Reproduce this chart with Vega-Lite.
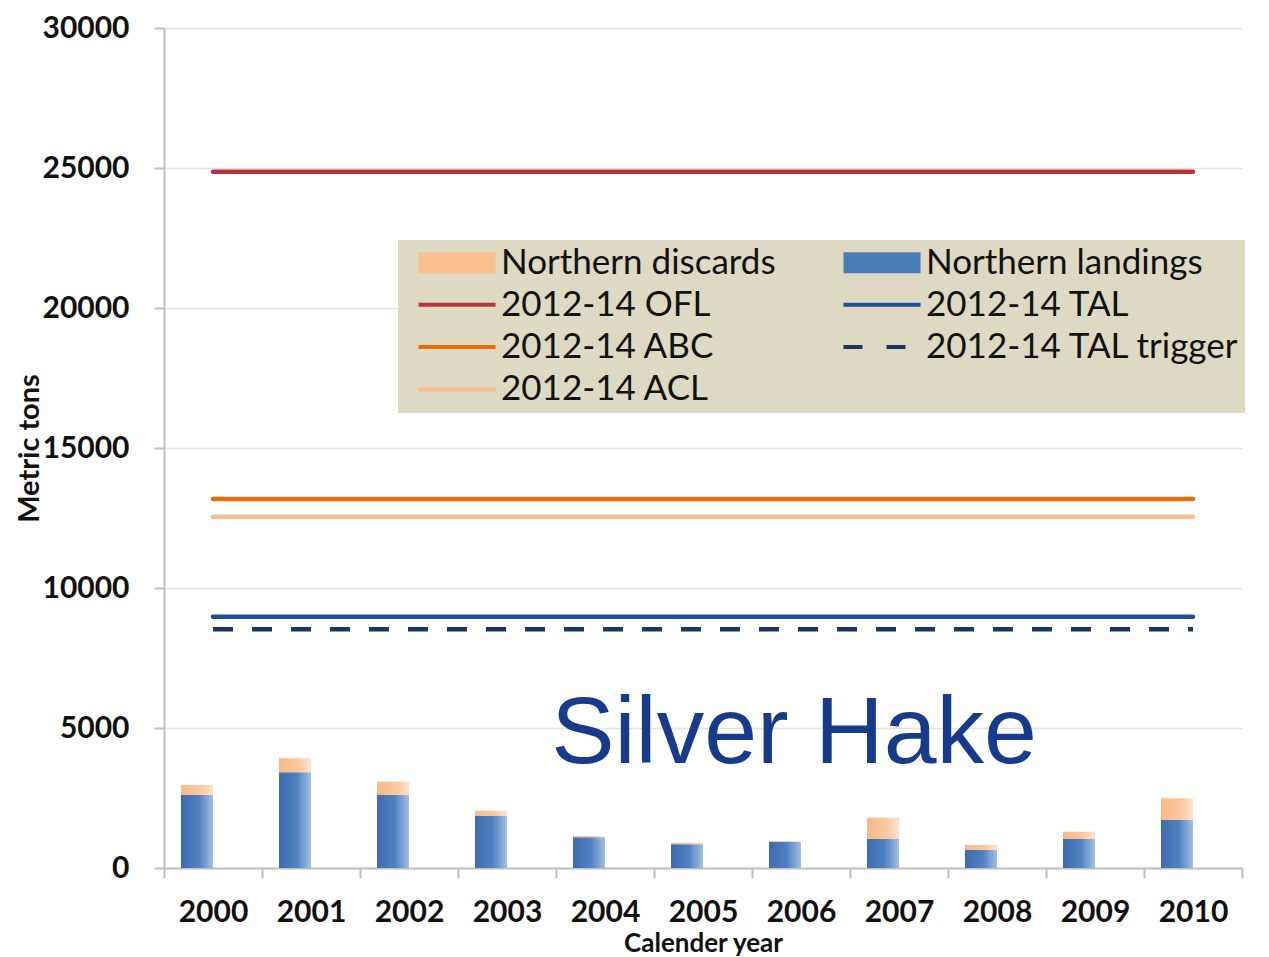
{
  "$schema": "https://vega.github.io/schema/vega-lite/v6.json",
  "width": 1078,
  "height": 840,
  "autosize": {"type": "none"},
  "padding": {"left": 164, "top": 28, "right": 27, "bottom": 89},
  "background": "#ffffff",
  "config": {"view": {"stroke": null}, "font": "Lato"},
  "datasets": {
    "bars": [
      {"year": "2000", "series": "Northern landings", "value": 2607},
      {"year": "2000", "series": "Northern discards", "value": 357},
      {"year": "2001", "series": "Northern landings", "value": 3420},
      {"year": "2001", "series": "Northern discards", "value": 500},
      {"year": "2002", "series": "Northern landings", "value": 2607},
      {"year": "2002", "series": "Northern discards", "value": 476},
      {"year": "2003", "series": "Northern landings", "value": 1857},
      {"year": "2003", "series": "Northern discards", "value": 190},
      {"year": "2004", "series": "Northern landings", "value": 1095},
      {"year": "2004", "series": "Northern discards", "value": 50},
      {"year": "2005", "series": "Northern landings", "value": 845},
      {"year": "2005", "series": "Northern discards", "value": 60},
      {"year": "2006", "series": "Northern landings", "value": 940},
      {"year": "2006", "series": "Northern discards", "value": 15},
      {"year": "2007", "series": "Northern landings", "value": 1036},
      {"year": "2007", "series": "Northern discards", "value": 760},
      {"year": "2008", "series": "Northern landings", "value": 643},
      {"year": "2008", "series": "Northern discards", "value": 180},
      {"year": "2009", "series": "Northern landings", "value": 1036},
      {"year": "2009", "series": "Northern discards", "value": 260},
      {"year": "2010", "series": "Northern landings", "value": 1714},
      {"year": "2010", "series": "Northern discards", "value": 775}
    ],
    "refs": [
      {"year": "2000", "series": "2012-14 OFL", "value": 24870},
      {"year": "2010", "series": "2012-14 OFL", "value": 24870},
      {"year": "2000", "series": "2012-14 ABC", "value": 13180},
      {"year": "2010", "series": "2012-14 ABC", "value": 13180},
      {"year": "2000", "series": "2012-14 ACL", "value": 12546},
      {"year": "2010", "series": "2012-14 ACL", "value": 12546},
      {"year": "2000", "series": "2012-14 TAL", "value": 8975},
      {"year": "2010", "series": "2012-14 TAL", "value": 8975},
      {"year": "2000", "series": "2012-14 TAL trigger", "value": 8526},
      {"year": "2010", "series": "2012-14 TAL trigger", "value": 8526}
    ]
  },
  "encoding": {
    "x": {
      "field": "year",
      "type": "ordinal",
      "scale": {"paddingInner": 0, "paddingOuter": 0},
      "title": "Calender year",
      "axis": {
        "labelAngle": 0,
        "labelFont": "Lato",
        "labelFontSize": 30,
        "labelFontWeight": "bold",
        "labelColor": "#111111",
        "labelPadding": 19,
        "tickBand": "extent",
        "tickSize": 10,
        "tickColor": "#BFBFBF",
        "tickWidth": 2,
        "domainColor": "#BFBFBF",
        "domainWidth": 2,
        "titleFont": "Lato",
        "titleFontSize": 26,
        "titleFontWeight": "bold",
        "titleColor": "#111111",
        "titlePadding": 3
      }
    },
    "y": {
      "field": "value",
      "type": "quantitative",
      "scale": {"domain": [0, 30000], "nice": false},
      "title": "Metric tons",
      "axis": {
        "values": [0, 5000, 10000, 15000, 20000, 25000, 30000],
        "format": "d",
        "labelFont": "Lato",
        "labelFontSize": 30,
        "labelFontWeight": "bold",
        "labelColor": "#111111",
        "labelPadding": 25,
        "tickSize": 10,
        "tickColor": "#BFBFBF",
        "tickWidth": 2,
        "domainColor": "#BFBFBF",
        "domainWidth": 2,
        "gridColor": "#E3E3E3",
        "gridWidth": 1.5,
        "titleFont": "Lato",
        "titleFontSize": 29,
        "titleFontWeight": "bold",
        "titleColor": "#111111",
        "titlePadding": -3
      }
    }
  },
  "layer": [
    {
      "data": {"name": "bars"},
      "mark": {"type": "bar"},
      "encoding": {
        "xOffset": {"datum": "a", "scale": {"domain": ["a", "b"], "paddingInner": 0, "paddingOuter": 0.53}},
        "detail": {"field": "series"},
        "order": {"field": "series", "sort": "descending"},
        "fill": {
          "condition": {
            "test": "datum.series === 'Northern landings'",
            "value": {"gradient": "linear", "x1": 0, "y1": 0, "x2": 1, "y2": 0,
              "stops": [{"offset": 0, "color": "#3D6CB0"}, {"offset": 0.55, "color": "#4F80C0"}, {"offset": 1, "color": "#A3BFE2"}]}
          },
          "value": {"gradient": "linear", "x1": 0, "y1": 0, "x2": 1, "y2": 0,
            "stops": [{"offset": 0, "color": "#F9B98A"}, {"offset": 0.6, "color": "#FBC79D"}, {"offset": 1, "color": "#FDE3CC"}]}
        }
      }
    },
    {
      "data": {"name": "refs"},
      "transform": [{"filter": "datum.series !== '2012-14 TAL trigger'"}],
      "mark": {"type": "line", "strokeWidth": 4.5, "strokeCap": "round"},
      "encoding": {
        "color": {
          "field": "series",
          "type": "nominal",
          "scale": {
            "domain": ["Northern discards", "2012-14 OFL", "2012-14 ABC", "2012-14 ACL", "Northern landings", "2012-14 TAL", "2012-14 TAL trigger"],
            "range": ["#FAC090", "#B8343C", "#E46C0A", "#F9BC8E", "#4A7EBB", "#1F4E9A", "#1B365F"]
          },
          "legend": {
            "orient": "none",
            "legendX": 234,
            "legendY": 212,
            "columns": 2,
            "title": null,
            "fillColor": "#DDD9C3",
            "padding": 5,
            "labelFont": "Lato",
            "labelFontSize": 35,
            "labelColor": "#111111",
            "labelLimit": 500,
            "labelOffset": 63,
            "symbolSize": 1024,
            "symbolStrokeWidth": 4,
            "symbolType": "M-0.125,0H4.69",
            "rowPadding": 6.3,
            "columnPadding": 52,
            "encode": {
              "symbols": {
                "update": {
                  "shape": {"signal": "(datum.value === 'Northern discards' || datum.value === 'Northern landings') ? 'M-0.125,-0.65H4.69V0.65H-0.125Z' : 'M-0.125,0H4.69'"},
                  "fill": {"signal": "datum.value === 'Northern discards' ? '#FAC090' : (datum.value === 'Northern landings' ? '#4A7EBB' : 'transparent')"},
                  "strokeWidth": {"signal": "(datum.value === 'Northern discards' || datum.value === 'Northern landings') ? 0 : 4"},
                  "strokeDash": {"signal": "datum.value === '2012-14 TAL trigger' ? [19, 24] : [1, 0]"}
                }
              }
            }
          }
        }
      }
    },
    {
      "data": {"name": "refs"},
      "transform": [{"filter": "datum.series === '2012-14 TAL trigger'"}],
      "mark": {"type": "line", "strokeWidth": 4.5, "strokeDash": [20, 19]},
      "encoding": {
        "color": {"field": "series", "type": "nominal"}
      }
    },
    {
      "data": {"values": [{"year": "2006", "value": 3760, "label": "Silver Hake"}]},
      "mark": {"type": "text", "font": "Liberation Sans", "fontSize": 95, "color": "#173B8B", "align": "center", "baseline": "alphabetic", "dx": -7},
      "encoding": {
        "text": {"field": "label"}
      }
    }
  ]
}
